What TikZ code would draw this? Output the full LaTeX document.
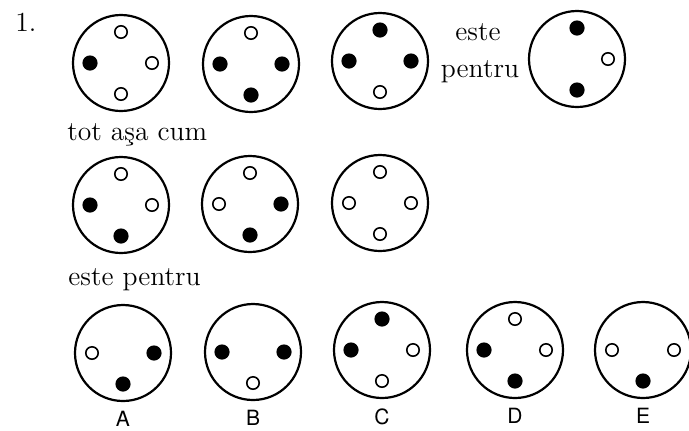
\documentclass[tikz,border=0pt]{standalone}
\usepackage{fontspec}
\usepackage{tikz}
\usetikzlibrary{positioning,calc}

\newfontfamily\labelfont{TeX Gyre Heros}

% one round socket with its pins (name, centre, direction/kind list)
\newcommand{\socket}[3]{%
  \node[dial] (#1) at (#2) {};
  \foreach \dir/\kind in {#3}
    \node[\kind] (#1-\dir) at ($(#1)!15.5pt!(#1.\dir)$) {};
}

\begin{document}
\begin{tikzpicture}[x=0.5pt, y=-0.5pt,
    dial/.style={draw, circle, line width=1.1pt, minimum size=48pt, inner sep=0pt},
    hole/.style={draw, circle, line width=0.8pt, fill=white, minimum size=6.2pt, inner sep=0pt},
    pin/.style={circle, fill=black, minimum size=7.6pt, inner sep=0pt},
    word/.style={font=\fontsize{13.8}{16}\selectfont, inner sep=0pt},
    letter/.style={font=\labelfont\fontsize{10.5}{12}\selectfont, inner sep=0pt}
]
\useasboundingbox (0,0) rectangle (689,430);

% first row
\node[word, anchor=base west] (num) at (15,31) {1.};
\socket{r1a}{121,63}{north/hole, west/pin, east/hole, south/hole}
\socket{r1b}{251,64}{north/hole, west/pin, east/pin, south/pin}
\socket{r1c}{380,61}{north/pin, west/pin, east/pin, south/hole}
\node[word, anchor=base] (este) at (478,40) {este};
\node[word, anchor=base] (pentru) at (480,77) {pentru};
\socket{r1d}{577,59}{north/pin, east/hole, south/pin}

% second row
\node[word, anchor=base west] (totasa) at (67,140) {tot aşa cum};
\socket{r2a}{121,205}{north/hole, west/pin, east/hole, south/pin}
\socket{r2b}{250,204}{north/hole, west/hole, east/pin, south/pin}
\socket{r2c}{380,203}{north/hole, west/hole, east/hole, south/hole}

% answers
\node[word, anchor=base west] (estepentru) at (68,285) {este pentru};
\socket{r3a}{123,353}{west/hole, east/pin, south/pin}
\socket{r3b}{253,352}{west/pin, east/pin, south/hole}
\socket{r3c}{382,350}{north/pin, west/pin, east/hole, south/hole}
\socket{r3d}{515,350}{north/hole, west/pin, east/hole, south/pin}
\socket{r3e}{643,350}{west/hole, east/hole, south/pin}

\node[letter, below=4.5pt of r3a] (la) {A};
\node[letter, below=4.5pt of r3b] (lb) {B};
\node[letter, below=4.5pt of r3c] (lc) {C};
\node[letter, below=4.5pt of r3d] (ld) {D};
\node[letter, below=4.5pt of r3e] (le) {E};
\end{tikzpicture}
\end{document}
